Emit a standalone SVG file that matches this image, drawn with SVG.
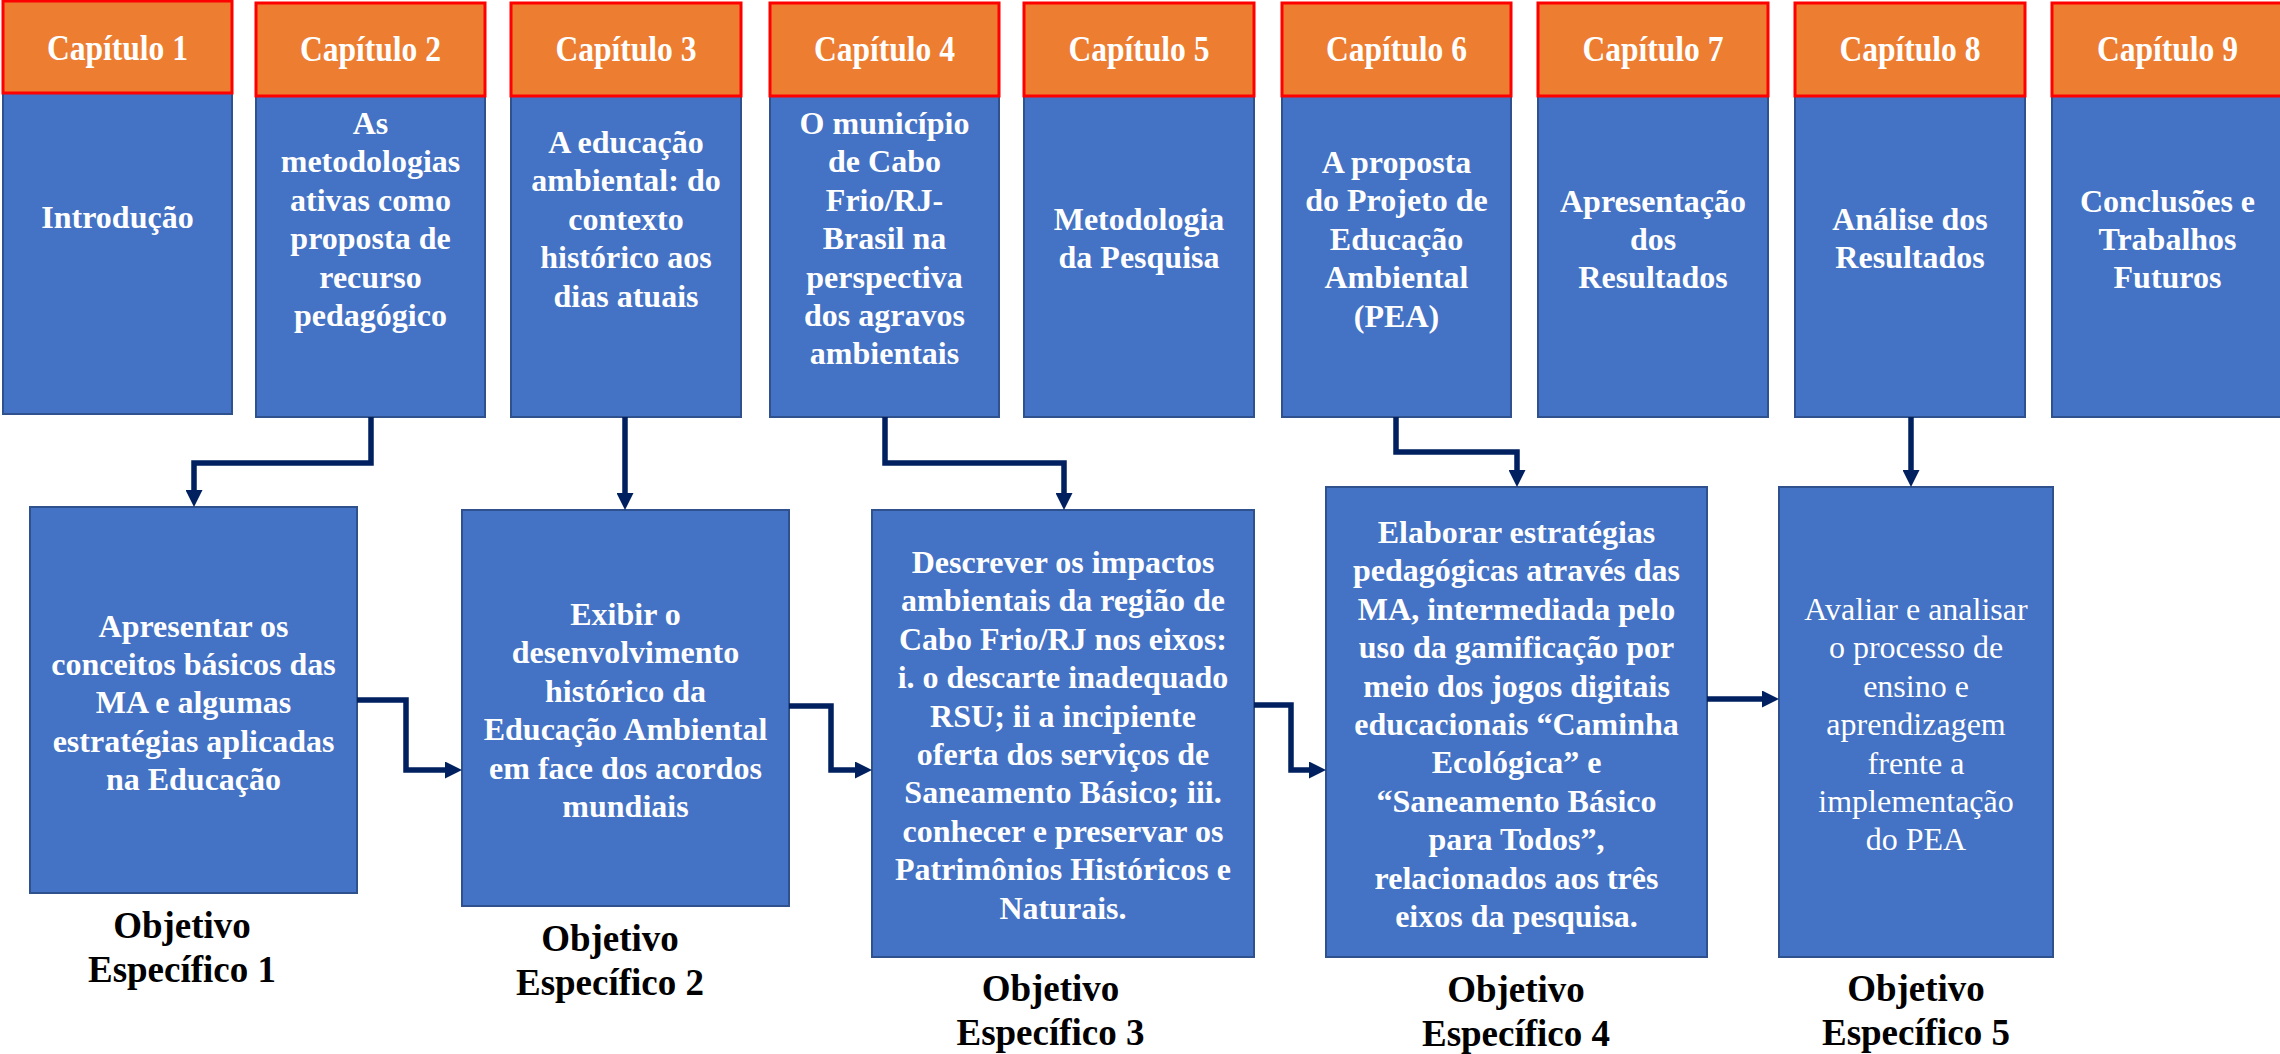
<svg xmlns="http://www.w3.org/2000/svg" width="2280" height="1054" viewBox="0 0 2280 1054">
<style>
.body{fill:#4472C4;stroke:#2F528F;stroke-width:2}
.head{fill:#ED7D31;stroke:#FF0000;stroke-width:3}
.ttl{font-family:"Liberation Serif","Times New Roman",serif;font-weight:bold;font-size:36px;fill:#FFFFFF;text-anchor:middle}
.t{font-family:"Liberation Serif","Times New Roman",serif;font-weight:bold;font-size:32px;fill:#FFFFFF;text-anchor:middle}
.r{font-family:"Liberation Serif","Times New Roman",serif;font-size:32px;fill:#FFFFFF;text-anchor:middle}
.lbl{font-family:"Liberation Serif","Times New Roman",serif;font-weight:bold;font-size:37px;fill:#000000;text-anchor:middle}
.c{fill:none;stroke:#002060;stroke-width:5.5;marker-end:url(#ah)}
</style>
<defs>
<marker id="ah" viewBox="0 0 17 17" refX="7" refY="8.5" markerWidth="17" markerHeight="17" markerUnits="userSpaceOnUse" orient="auto">
<path d="M0,0 L17,8.5 L0,17 z" fill="#002060"/>
</marker>
</defs>
<rect width="2280" height="1054" fill="#FFFFFF"/>

<g id="cap1">
<rect class="body" x="3" y="1" width="229" height="413"/>
<rect class="head" x="3" y="1" width="229" height="92"/>
<text class="ttl" x="117.5" y="60" textLength="141" lengthAdjust="spacingAndGlyphs">Capítulo 1</text>
<text class="t" x="117.5" y="228">Introdução</text>
</g>
<g id="cap2">
<rect class="body" x="256" y="3" width="229" height="414"/>
<rect class="head" x="256" y="3" width="229" height="93"/>
<text class="ttl" x="370.5" y="61" textLength="141" lengthAdjust="spacingAndGlyphs">Capítulo 2</text>
<text class="t" x="370.5" y="134"><tspan x="370.5">As</tspan><tspan x="370.5" dy="38.4">metodologias</tspan><tspan x="370.5" dy="38.4">ativas como</tspan><tspan x="370.5" dy="38.4">proposta de</tspan><tspan x="370.5" dy="38.4">recurso</tspan><tspan x="370.5" dy="38.4">pedagógico</tspan></text>
</g>
<g id="cap3">
<rect class="body" x="511" y="3" width="230" height="414"/>
<rect class="head" x="511" y="3" width="230" height="93"/>
<text class="ttl" x="626" y="61" textLength="141" lengthAdjust="spacingAndGlyphs">Capítulo 3</text>
<text class="t" x="626" y="153"><tspan x="626">A educação</tspan><tspan x="626" dy="38.4">ambiental: do</tspan><tspan x="626" dy="38.4">contexto</tspan><tspan x="626" dy="38.4">histórico aos</tspan><tspan x="626" dy="38.4">dias atuais</tspan></text>
</g>
<g id="cap4">
<rect class="body" x="770" y="3" width="229" height="414"/>
<rect class="head" x="770" y="3" width="229" height="93"/>
<text class="ttl" x="884.5" y="61" textLength="141" lengthAdjust="spacingAndGlyphs">Capítulo 4</text>
<text class="t" x="884.5" y="134"><tspan x="884.5">O município</tspan><tspan x="884.5" dy="38.4">de Cabo</tspan><tspan x="884.5" dy="38.4">Frio/RJ-</tspan><tspan x="884.5" dy="38.4">Brasil na</tspan><tspan x="884.5" dy="38.4">perspectiva</tspan><tspan x="884.5" dy="38.4">dos agravos</tspan><tspan x="884.5" dy="38.4">ambientais</tspan></text>
</g>
<g id="cap5">
<rect class="body" x="1024" y="3" width="230" height="414"/>
<rect class="head" x="1024" y="3" width="230" height="93"/>
<text class="ttl" x="1139" y="61" textLength="141" lengthAdjust="spacingAndGlyphs">Capítulo 5</text>
<text class="t" x="1139" y="230"><tspan x="1139">Metodologia</tspan><tspan x="1139" dy="38.4">da Pesquisa</tspan></text>
</g>
<g id="cap6">
<rect class="body" x="1282" y="3" width="229" height="414"/>
<rect class="head" x="1282" y="3" width="229" height="93"/>
<text class="ttl" x="1396.5" y="61" textLength="141" lengthAdjust="spacingAndGlyphs">Capítulo 6</text>
<text class="t" x="1396.5" y="173"><tspan x="1396.5">A proposta</tspan><tspan x="1396.5" dy="38.4">do Projeto de</tspan><tspan x="1396.5" dy="38.4">Educação</tspan><tspan x="1396.5" dy="38.4">Ambiental</tspan><tspan x="1396.5" dy="38.4">(PEA)</tspan></text>
</g>
<g id="cap7">
<rect class="body" x="1538" y="3" width="230" height="414"/>
<rect class="head" x="1538" y="3" width="230" height="93"/>
<text class="ttl" x="1653" y="61" textLength="141" lengthAdjust="spacingAndGlyphs">Capítulo 7</text>
<text class="t" x="1653" y="211.5"><tspan x="1653">Apresentação</tspan><tspan x="1653" dy="38.4">dos</tspan><tspan x="1653" dy="38.4">Resultados</tspan></text>
</g>
<g id="cap8">
<rect class="body" x="1795" y="3" width="230" height="414"/>
<rect class="head" x="1795" y="3" width="230" height="93"/>
<text class="ttl" x="1910" y="61" textLength="141" lengthAdjust="spacingAndGlyphs">Capítulo 8</text>
<text class="t" x="1910" y="230"><tspan x="1910">Análise dos</tspan><tspan x="1910" dy="38.4">Resultados</tspan></text>
</g>
<g id="cap9">
<rect class="body" x="2052" y="3" width="231" height="414"/>
<rect class="head" x="2052" y="3" width="231" height="93"/>
<text class="ttl" x="2167.5" y="61" textLength="141" lengthAdjust="spacingAndGlyphs">Capítulo 9</text>
<text class="t" x="2167.5" y="211.5"><tspan x="2167.5">Conclusões e</tspan><tspan x="2167.5" dy="38.4">Trabalhos</tspan><tspan x="2167.5" dy="38.4">Futuros</tspan></text>
</g>

<g id="obj1">
<rect class="body" x="30" y="507" width="327" height="386"/>
<text class="t" x="193.5" y="637"><tspan x="193.5">Apresentar os</tspan><tspan x="193.5" dy="38.2">conceitos básicos das</tspan><tspan x="193.5" dy="38.2">MA e algumas</tspan><tspan x="193.5" dy="38.2">estratégias aplicadas</tspan><tspan x="193.5" dy="38.2">na Educação</tspan></text>
<text class="lbl" x="182" y="938"><tspan x="182">Objetivo</tspan><tspan x="182" dy="44">Específico 1</tspan></text>
</g>
<g id="obj2">
<rect class="body" x="462" y="510" width="327" height="396"/>
<text class="t" x="625.5" y="625"><tspan x="625.5">Exibir o</tspan><tspan x="625.5" dy="38.4">desenvolvimento</tspan><tspan x="625.5" dy="38.4">histórico da</tspan><tspan x="625.5" dy="38.4">Educação Ambiental</tspan><tspan x="625.5" dy="38.4">em face dos acordos</tspan><tspan x="625.5" dy="38.4">mundiais</tspan></text>
<text class="lbl" x="610" y="951"><tspan x="610">Objetivo</tspan><tspan x="610" dy="44">Específico 2</tspan></text>
</g>
<g id="obj3">
<rect class="body" x="872" y="510" width="382" height="447"/>
<text class="t" x="1063" y="573"><tspan x="1063">Descrever os impactos</tspan><tspan x="1063" dy="38.4">ambientais da região de</tspan><tspan x="1063" dy="38.4">Cabo Frio/RJ nos eixos:</tspan><tspan x="1063" dy="38.4">i. o descarte inadequado</tspan><tspan x="1063" dy="38.4">RSU; ii a incipiente</tspan><tspan x="1063" dy="38.4">oferta dos serviços de</tspan><tspan x="1063" dy="38.4">Saneamento Básico; iii.</tspan><tspan x="1063" dy="38.4">conhecer e preservar os</tspan><tspan x="1063" dy="38.4">Patrimônios Históricos e</tspan><tspan x="1063" dy="38.4">Naturais.</tspan></text>
<text class="lbl" x="1050.5" y="1001"><tspan x="1050.5">Objetivo</tspan><tspan x="1050.5" dy="44">Específico 3</tspan></text>
</g>
<g id="obj4">
<rect class="body" x="1326" y="487" width="381" height="470"/>
<text class="t" x="1516.5" y="543"><tspan x="1516.5">Elaborar estratégias</tspan><tspan x="1516.5" dy="38.4">pedagógicas através das</tspan><tspan x="1516.5" dy="38.4">MA, intermediada pelo</tspan><tspan x="1516.5" dy="38.4">uso da gamificação por</tspan><tspan x="1516.5" dy="38.4">meio dos jogos digitais</tspan><tspan x="1516.5" dy="38.4">educacionais “Caminha</tspan><tspan x="1516.5" dy="38.4">Ecológica” e</tspan><tspan x="1516.5" dy="38.4">“Saneamento Básico</tspan><tspan x="1516.5" dy="38.4">para Todos”,</tspan><tspan x="1516.5" dy="38.4">relacionados aos três</tspan><tspan x="1516.5" dy="38.4">eixos da pesquisa.</tspan></text>
<text class="lbl" x="1516" y="1001.5"><tspan x="1516">Objetivo</tspan><tspan x="1516" dy="44">Específico 4</tspan></text>
</g>
<g id="obj5">
<rect class="body" x="1779" y="487" width="274" height="470"/>
<text class="r" x="1916" y="620"><tspan x="1916">Avaliar e analisar</tspan><tspan x="1916" dy="38.4">o processo de</tspan><tspan x="1916" dy="38.4">ensino e</tspan><tspan x="1916" dy="38.4">aprendizagem</tspan><tspan x="1916" dy="38.4">frente a</tspan><tspan x="1916" dy="38.4">implementação</tspan><tspan x="1916" dy="38.4">do PEA</tspan></text>
<text class="lbl" x="1916" y="1001"><tspan x="1916">Objetivo</tspan><tspan x="1916" dy="44">Específico 5</tspan></text>
</g>

<g id="connectors">
<path class="c" d="M371 417 V463 H194 V497"/>
<path class="c" d="M625 417 V500"/>
<path class="c" d="M885 417 V463 H1064 V500"/>
<path class="c" d="M1396 417 V452 H1517 V477"/>
<path class="c" d="M1911 417 V477"/>
<path class="c" d="M357 700 H406 V770 H452"/>
<path class="c" d="M789 706 H831 V770 H862"/>
<path class="c" d="M1254 705 H1291 V770 H1316"/>
<path class="c" d="M1707 699 H1769"/>
</g>
</svg>
